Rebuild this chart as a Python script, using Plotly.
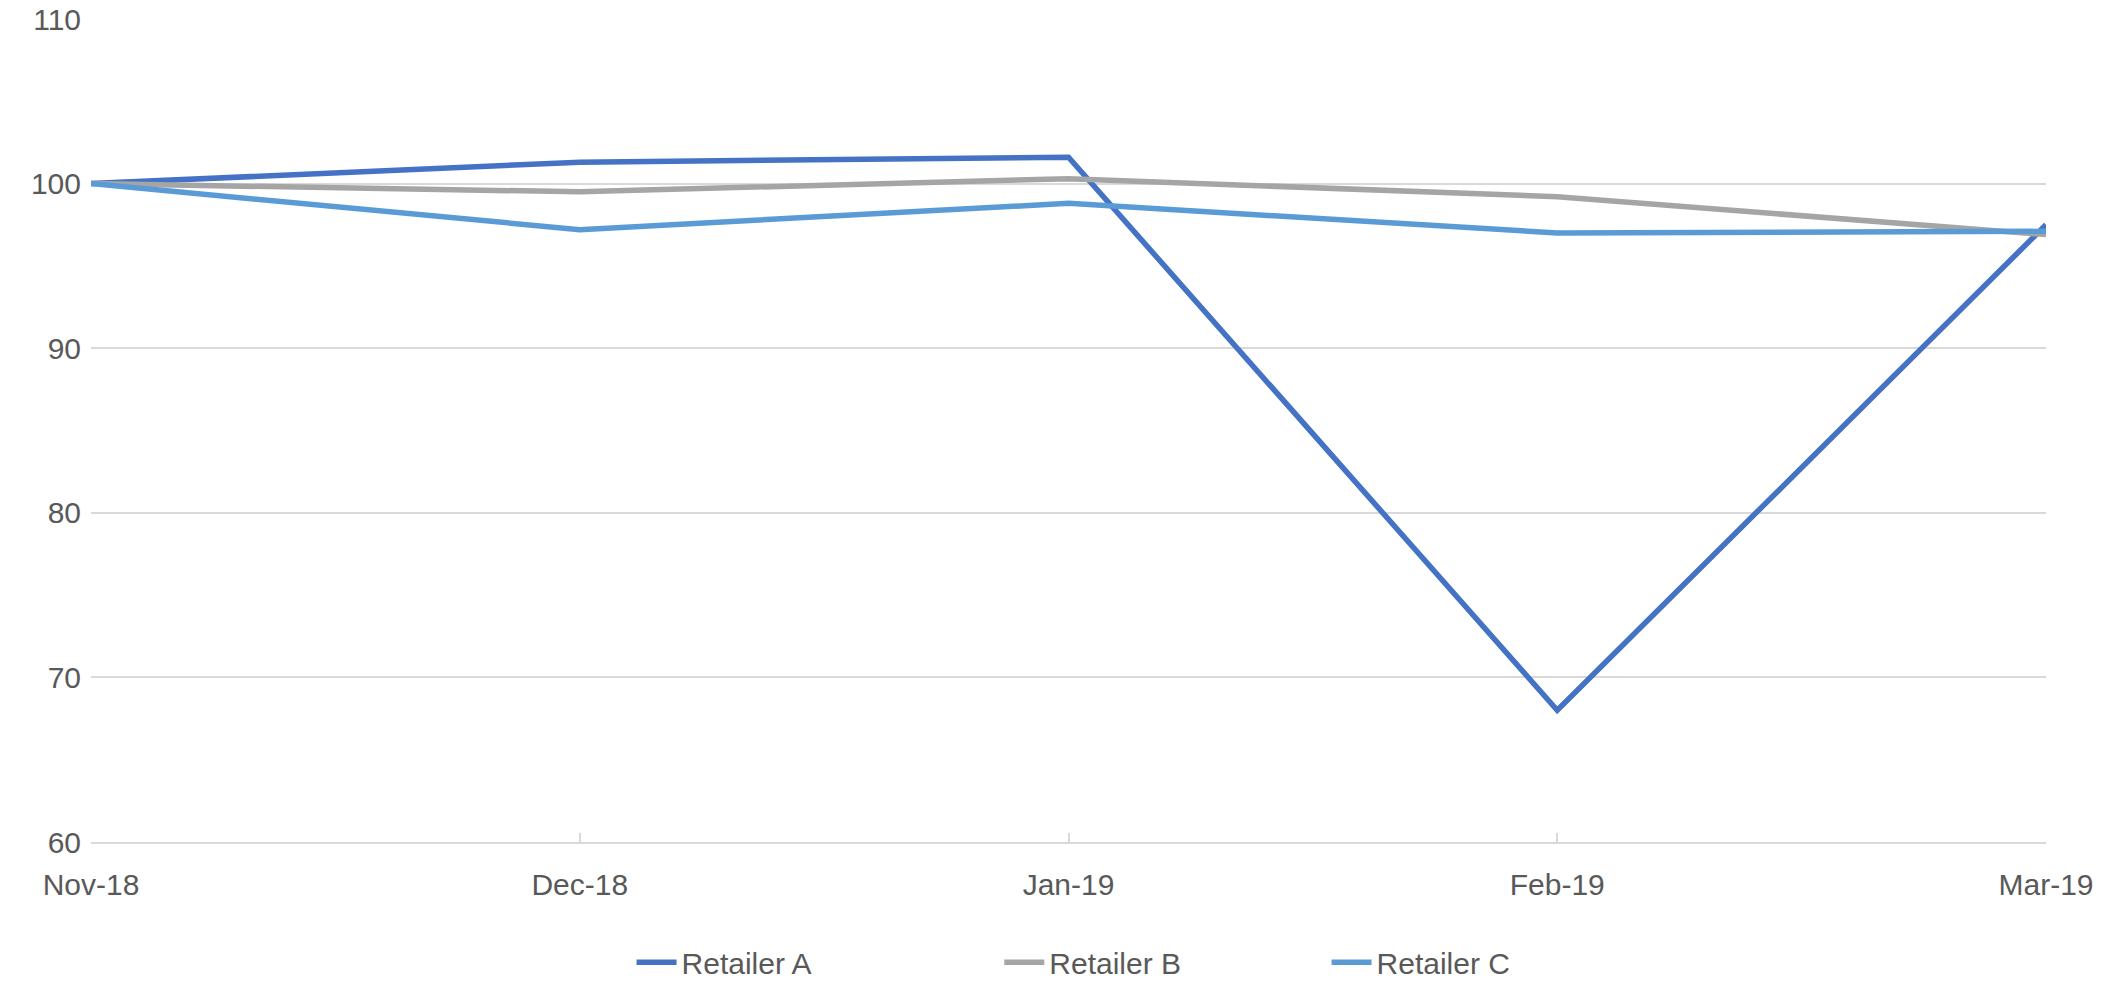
import plotly.graph_objects as go

months = ["Nov-18", "Dec-18", "Jan-19", "Feb-19", "Mar-19"]
retailer_a = [100, 101.3, 101.6, 68.0, 97.5]
retailer_b = [100, 99.5, 100.3, 99.2, 96.9]
retailer_c = [100, 97.2, 98.8, 97.0, 97.1]
y_ticks = [60, 70, 80, 90, 100, 110]

FONT = "Liberation Sans"
TXT = "#595959"
GRID = "#d9d9d9"
FS = 30

series = [("Retailer A", retailer_a, "#4472C4", "legend", 0.2765),
          ("Retailer B", retailer_b, "#A5A5A5", "legend2", 0.4646),
          ("Retailer C", retailer_c, "#5B9BD5", "legend3", 0.632)]

fig = go.Figure()
for name, vals, col, lg, _ in series:
    fig.add_trace(go.Scatter(x=months, y=vals, name=name, mode="lines", legend=lg,
                             line=dict(color=col, width=5.5)))

legend_common = dict(orientation="h", xanchor="left", yref="container", y=0.02, yanchor="middle",
                     font=dict(family=FONT, size=FS, color=TXT), itemwidth=40,
                     bgcolor="rgba(0,0,0,0)")
for name, vals, col, lg, xpos in series:
    fig.update_layout({lg: dict(legend_common, x=xpos)})

fig.update_layout(
    width=2116, height=982,
    margin=dict(l=91, r=70, t=19, b=140),
    paper_bgcolor="white", plot_bgcolor="white",
    font=dict(family=FONT, size=FS, color=TXT),
    showlegend=True,
    xaxis=dict(type="category", range=[0, 4], showgrid=False, automargin=False,
               showline=True, linecolor=GRID, linewidth=2,
               ticks="inside", ticklen=9, tickcolor=GRID, tickwidth=2,
               ticklabelstandoff=15, tickfont=dict(family=FONT, size=FS, color=TXT)),
    yaxis=dict(range=[60, 110], tickvals=y_ticks, showgrid=True, gridcolor=GRID, gridwidth=2,
               automargin=False,
               showline=False, zeroline=False, ticks="", ticklabelstandoff=9,
               tickfont=dict(family=FONT, size=FS, color=TXT)),
)

fig.write_html("out.html")
